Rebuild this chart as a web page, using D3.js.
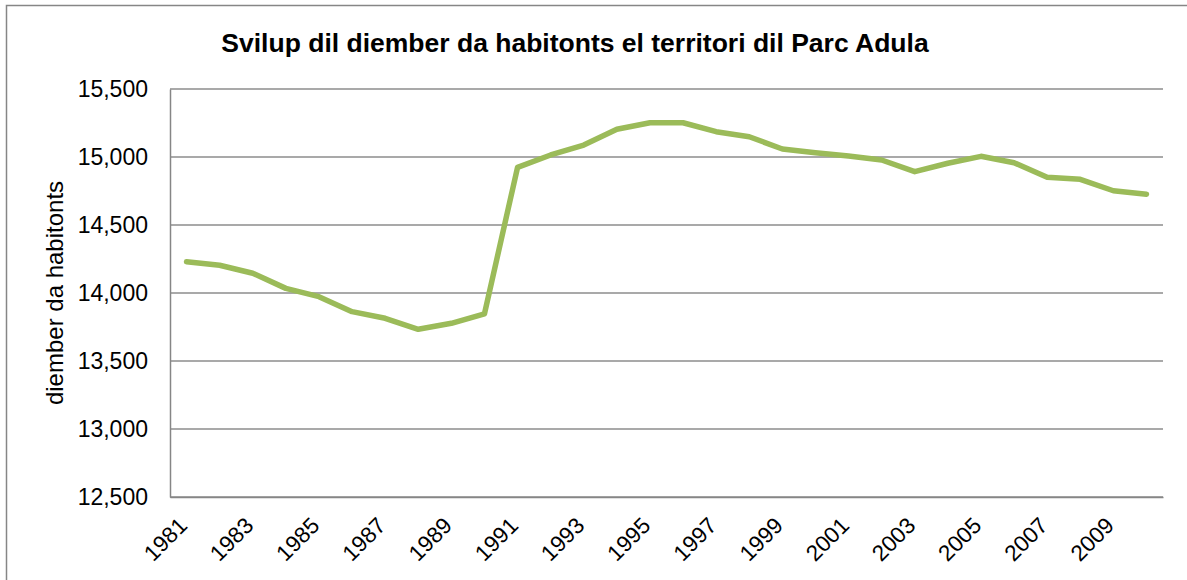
<!DOCTYPE html>
<html>
<head>
<meta charset="utf-8">
<script src="https://cdn.jsdelivr.net/npm/d3@7"></script>
<style>
  body { margin: 0; background: #fff; }
  svg { font-family: "Liberation Sans", Arial, sans-serif; }
</style>
</head>
<body>
<div id="chart"></div>
<script>
// chart data
const years = d3.range(1981, 2011);
const habitonts = [
  14230, 14204, 14145, 14034, 13973, 13863, 13814, 13733, 13777, 13846,
  14924, 15015, 15088, 15204, 15252, 15252, 15186, 15149, 15059, 15032,
  15007, 14978, 14892, 14954, 15005, 14958, 14851, 14836, 14752, 14726
];
const yTicks = [12500, 13000, 13500, 14000, 14500, 15000, 15500];
const title = "Svilup dil diember da habitonts el territori dil Parc Adula";
const yTitle = "diember da habitonts";

const width = 1187;
const height = 580;
const margin = {left: 170, right: 24, top: 89, bottom: 83};

const svg = d3.select("#chart")
  .append("svg")
  .attr("width", width)
  .attr("height", height);

// outer chart border (runs off the right and bottom edge)
svg.append("rect")
  .attr("x", 6.5).attr("y", 5.5)
  .attr("width", width + 10).attr("height", height + 10)
  .attr("fill", "none")
  .attr("stroke", "#868686")
  .attr("stroke-width", 1.5);

const xScale = d3.scaleBand()
  .domain(years)
  .range([margin.left, width - margin.right]);

const yScale = d3.scaleLinear()
  .domain([12500, 15500])
  .range([height - margin.bottom, margin.top]);

// gridlines
svg.append("g")
  .selectAll("line")
  .data(yTicks)
  .enter()
  .append("line")
    .attr("x1", margin.left)
    .attr("x2", width - margin.right)
    .attr("y1", d => yScale(d))
    .attr("y2", d => yScale(d))
    .attr("stroke", "#8c8c8c")
    .attr("stroke-width", 1.5);

// y axis
const yAxis = svg.append("g")
  .attr("transform", `translate(${margin.left},0)`)
  .call(d3.axisLeft(yScale).tickValues(yTicks).tickFormat(d3.format(",")).tickSize(0).tickPadding(22));
yAxis.select(".domain").attr("stroke", "#868686").attr("stroke-width", 1.5);
yAxis.selectAll("text").attr("font-size", "23px").attr("fill", "#000")
  .attr("font-family", "Liberation Sans, Arial, sans-serif");

// x axis, every second year labelled
const xAxis = svg.append("g")
  .attr("transform", `translate(0,${height - margin.bottom})`)
  .call(d3.axisBottom(xScale).tickValues(years.filter((d, i) => i % 2 === 0)).tickSize(0));
xAxis.select(".domain").attr("stroke", "#868686").attr("stroke-width", 1.5);
xAxis.selectAll("text")
  .attr("font-size", "22.5px")
  .attr("fill", "#000")
  .attr("font-family", "Liberation Sans, Arial, sans-serif")
  .attr("text-anchor", "end")
  .attr("dy", null)
  .attr("y", 0)
  .attr("transform", "translate(2,30) rotate(-45)");

// the line
const line = d3.line()
  .x((d, i) => xScale(years[i]) + xScale.bandwidth() / 2)
  .y(d => yScale(d));

svg.append("path")
  .datum(habitonts)
  .attr("d", line)
  .attr("fill", "none")
  .attr("stroke", "#9bbb59")
  .attr("stroke-width", 5.5)
  .attr("stroke-linejoin", "round")
  .attr("stroke-linecap", "round");

// titles
svg.append("text")
  .attr("x", 575).attr("y", 52)
  .attr("text-anchor", "middle")
  .attr("font-size", "26.5px")
  .attr("font-weight", "bold")
  .text(title);

svg.append("text")
  .attr("transform", `translate(63,${(margin.top + height - margin.bottom) / 2}) rotate(-90)`)
  .attr("text-anchor", "middle")
  .attr("font-size", "24px")
  .text(yTitle);
</script>
</body>
</html>
